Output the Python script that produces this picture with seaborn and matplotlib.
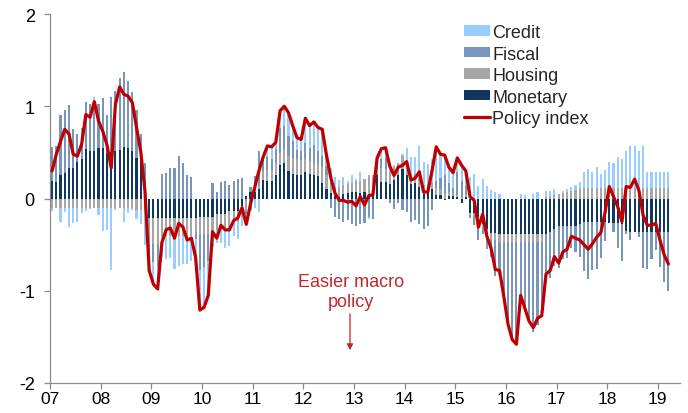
import numpy as np
import pandas as pd
import matplotlib
matplotlib.use("Agg")
import matplotlib.pyplot as plt
from matplotlib.patches import Patch
from matplotlib.lines import Line2D
import seaborn as sns

# ---------------- data (monthly, Jan 2007 - Mar 2019) ----------------
year_labels = ["07", "08", "09", "10", "11", "12", "13", "14", "15", "16", "17", "18", "19"]

monetary = [
    0.19, 0.18, 0.26, 0.28, 0.33, 0.33, 0.40, 0.43, 0.54, 0.52, 0.51, 0.55,
    0.55, 0.49, 0.50, 0.52, 0.53, 0.56, 0.55, 0.52, 0.44, 0.44, 0.02, -0.21,
    -0.21, -0.21, -0.21, -0.21, -0.21, -0.21, -0.21, -0.21, -0.21, -0.21, -0.21, -0.20,
    -0.20, -0.20, -0.20, -0.17, -0.17, -0.17, -0.14, -0.14, -0.14, -0.08, 0.03, 0.07,
    0.07, 0.10, 0.20, 0.19, 0.19, 0.25, 0.36, 0.39, 0.30, 0.27, 0.25, 0.26,
    0.29, 0.27, 0.25, 0.24, 0.17, 0.10, 0.06, 0.03, 0.02, 0.05, 0.06, 0.07,
    0.07, 0.06, 0.07, 0.05, 0.05, 0.25, 0.18, 0.18, 0.16, 0.20, 0.25, 0.32,
    0.25, 0.16, 0.17, 0.12, 0.05, 0.07, 0.10, 0.04, 0.04, -0.02, 0.03, 0.03,
    0.02, -0.05, 0.02, -0.16, -0.16, -0.20, -0.28, -0.33, -0.37, -0.37, -0.39, -0.39,
    -0.39, -0.39, -0.39, -0.39, -0.39, -0.39, -0.39, -0.39, -0.39, -0.38, -0.36, -0.33,
    -0.30, -0.30, -0.30, -0.30, -0.30, -0.28, -0.26, -0.26, -0.26, -0.26, -0.26, -0.26,
    -0.27, -0.27, -0.27, -0.28, -0.35, -0.36, -0.36, -0.36, -0.36, -0.36, -0.36, -0.36,
    -0.36, -0.36, -0.36,
]

housing = [
    -0.10, -0.10, -0.10, -0.10, -0.10, -0.10, -0.10, -0.10, -0.10, -0.10, -0.10, -0.10,
    -0.10, -0.10, -0.10, -0.10, -0.10, -0.10, -0.10, -0.10, -0.12, -0.12, -0.12, -0.28,
    -0.28, -0.28, -0.20, -0.20, -0.20, -0.20, -0.20, -0.20, -0.20, -0.20, -0.18, -0.18,
    -0.18, -0.18, -0.17, -0.17, -0.17, -0.17, -0.17, -0.12, -0.12, -0.12, -0.12, -0.12,
    0.02, 0.05, 0.10, 0.12, 0.12, 0.14, 0.13, 0.15, 0.16, 0.17, 0.18, 0.16,
    0.14, 0.14, 0.13, 0.13, 0.17, 0.15, 0.12, 0.10, 0.10, 0.10, 0.10, 0.10,
    0.12, 0.13, 0.14, 0.20, 0.20, 0.16, 0.15, 0.14, 0.14, 0.14, 0.13, 0.14,
    0.12, 0.12, 0.10, 0.10, 0.10, 0.09, 0.08, 0.07, 0.06, 0.05, 0.04, 0.03,
    0.02, 0.02, 0.02, -0.02, -0.03, -0.03, -0.04, -0.05, -0.07, -0.08, -0.08, -0.08,
    -0.08, -0.08, -0.08, -0.08, -0.08, -0.08, -0.08, -0.08, -0.08, 0.02, 0.03, 0.04,
    0.05, 0.06, 0.07, 0.08, 0.09, 0.10, 0.11, 0.11, 0.11, 0.11, 0.11, 0.11,
    0.11, 0.11, 0.11, 0.11, 0.11, 0.11, 0.11, 0.11, 0.11, 0.11, 0.11, 0.11,
    0.11, 0.11, 0.11,
]

fiscal = [
    0.37, 0.39, 0.64, 0.68, 0.68, 0.42, 0.30, 0.33, 0.51, 0.50, 0.55, 0.47,
    0.54, 0.42, 0.60, 0.65, 0.78, 0.81, 0.72, 0.63, 0.52, 0.26, 0.37, -0.15,
    -0.20, -0.25, 0.27, 0.28, 0.33, 0.33, 0.46, 0.39, 0.25, 0.23, -0.05, -0.40,
    -0.36, -0.30, 0.17, 0.07, 0.18, 0.19, 0.15, 0.19, 0.21, 0.22, -0.05, 0.06,
    0.15, 0.37, 0.13, 0.14, 0.12, 0.15, 0.27, 0.25, 0.22, 0.18, 0.10, 0.10,
    0.17, 0.14, 0.20, 0.15, 0.12, 0.10, -0.10, -0.20, -0.22, -0.25, -0.23, -0.28,
    -0.30, -0.28, -0.27, -0.20, -0.22, 0.00, 0.10, 0.12, -0.05, -0.11, -0.05, -0.12,
    -0.15, -0.25, -0.23, -0.28, -0.33, -0.30, -0.12, 0.08, 0.12, 0.20, 0.10, 0.05,
    0.25, 0.17, 0.10, -0.03, -0.10, -0.22, -0.06, -0.17, -0.19, -0.39, -0.36, -0.59,
    -0.89, -1.06, -1.11, -0.63, -0.76, -0.86, -0.98, -0.90, -0.80, -0.52, -0.50, -0.40,
    -0.45, -0.36, -0.35, -0.24, -0.28, -0.35, -0.53, -0.61, -0.52, -0.50, -0.38, -0.20,
    0.00, -0.09, -0.27, -0.40, -0.03, -0.09, 0.00, -0.06, -0.39, -0.40, -0.30, -0.20,
    -0.38, -0.54, -0.64,
]

credit = [
    -0.04, 0.00, -0.15, -0.05, -0.21, -0.17, -0.15, -0.06, -0.04, -0.01, 0.04, -0.08,
    -0.25, -0.24, -0.67, -0.03, 0.00, -0.15, -0.06, -0.03, -0.10, -0.16, -0.38, -0.14,
    -0.24, -0.23, -0.22, -0.25, -0.23, -0.35, -0.32, -0.30, -0.30, -0.27, -0.28, -0.42,
    -0.44, -0.30, -0.16, -0.14, -0.14, -0.20, -0.20, -0.15, -0.18, -0.10, -0.10, -0.02,
    -0.10, -0.15, 0.03, 0.10, 0.12, 0.08, 0.20, 0.20, 0.25, 0.17, 0.14, 0.13,
    0.27, 0.24, 0.25, 0.25, 0.29, 0.10, 0.15, 0.10, 0.08, 0.08, 0.03, 0.08,
    0.02, 0.10, 0.00, -0.02, 0.00, 0.02, 0.10, 0.11, 0.07, 0.02, 0.01, 0.02,
    0.18, 0.17, 0.18, 0.35, 0.25, 0.21, 0.25, 0.36, 0.26, 0.23, 0.17, 0.16,
    0.15, 0.17, 0.16, 0.23, 0.27, 0.14, 0.21, 0.14, 0.09, 0.07, 0.05, 0.00,
    0.00, 0.00, 0.00, 0.05, 0.04, 0.00, 0.05, 0.07, 0.00, 0.06, 0.05, 0.06,
    0.00, 0.02, 0.03, 0.05, 0.06, 0.08, 0.18, 0.21, 0.18, 0.23, 0.16, 0.20,
    0.29, 0.27, 0.34, 0.32, 0.40, 0.46, 0.46, 0.40, 0.46, 0.18, 0.18, 0.18,
    0.18, 0.18, 0.18,
]

policy_index = [
    0.30, 0.48, 0.62, 0.75, 0.70, 0.48, 0.46, 0.59, 0.91, 0.88, 1.05, 0.84,
    0.73, 0.58, 0.33, 1.02, 1.21, 1.13, 1.11, 1.04, 0.77, 0.51, 0.08, -0.78,
    -0.93, -0.98, -0.48, -0.34, -0.32, -0.43, -0.27, -0.31, -0.45, -0.43, -0.64, -1.21,
    -1.18, -1.05, -0.36, -0.43, -0.29, -0.34, -0.34, -0.24, -0.21, -0.10, -0.28, -0.06,
    0.12, 0.30, 0.45, 0.57, 0.56, 0.61, 0.95, 1.00, 0.93, 0.79, 0.66, 0.64,
    0.87, 0.79, 0.83, 0.77, 0.75, 0.47, 0.23, 0.06, -0.02, -0.02, -0.04, -0.03,
    -0.08, 0.02, -0.07, 0.03, 0.04, 0.44, 0.54, 0.55, 0.35, 0.25, 0.34, 0.36,
    0.40, 0.20, 0.22, 0.29, 0.07, 0.07, 0.30, 0.56, 0.48, 0.47, 0.34, 0.28,
    0.44, 0.36, 0.30, 0.02, -0.02, -0.31, -0.17, -0.41, -0.54, -0.77, -0.78, -1.06,
    -1.36, -1.53, -1.58, -1.05, -1.19, -1.33, -1.40, -1.30, -1.27, -0.82, -0.78, -0.63,
    -0.70, -0.58, -0.55, -0.41, -0.43, -0.45, -0.50, -0.55, -0.49, -0.42, -0.37, -0.15,
    0.13, 0.02, -0.09, -0.25, 0.13, 0.12, 0.21, 0.09, -0.18, -0.29, -0.29, -0.27,
    -0.45, -0.61, -0.71,
]

# ---------------- style ----------------
sns.set_theme(style="white")
plt.rcParams["font.family"] = ["Liberation Sans", "DejaVu Sans"]

FS = 13
C_CREDIT = "#99CCFF"
C_FISCAL = "#7895BC"
C_HOUSING = "#A6A6A6"
C_MONETARY = "#0F375F"
C_LINE = "#C00000"
C_ANNOT = "#C0282D"
C_AXIS = "#8C8C8C"

fig = plt.figure(figsize=(6.88, 4.14), dpi=100)
ax = fig.add_axes([50 / 688, 30 / 414, 630 / 688, 369 / 414])

n = len(policy_index)
x = np.arange(n)

components = [
    ("Monetary", monetary, C_MONETARY),
    ("Housing", housing, C_HOUSING),
    ("Fiscal", fiscal, C_FISCAL),
    ("Credit", credit, C_CREDIT),
]
pos_base = np.zeros(n)
neg_base = np.zeros(n)
for name, vals, col in components:
    v = np.asarray(vals, dtype=float)
    p = np.where(v > 0, v, 0.0)
    q = np.where(v < 0, v, 0.0)
    ax.bar(x, p, bottom=pos_base, width=0.5, color=col, linewidth=0, zorder=2)
    ax.bar(x, q, bottom=neg_base, width=0.5, color=col, linewidth=0, zorder=2)
    pos_base += p
    neg_base += q

df = pd.DataFrame({"month": x, "Policy index": policy_index})
sns.lineplot(data=df, x="month", y="Policy index", color=C_LINE, linewidth=2.3,
             ax=ax, zorder=5)

# ---------------- axes ----------------
ax.set_xlim(-0.5, 148.75)
ax.set_ylim(-2, 2)
ax.set_yticks([-2, -1, 0, 1, 2])
ax.set_yticklabels(["-2", "-1", "0", "1", "2"])
ax.set_xticks([12 * k - 0.5 for k in range(len(year_labels))])
ax.set_xticklabels(year_labels)
ax.set_xlabel("")
ax.set_ylabel("")

for s in ["top", "right"]:
    ax.spines[s].set_visible(False)
for s in ["left", "bottom"]:
    ax.spines[s].set_color(C_AXIS)
    ax.spines[s].set_linewidth(0.9)

ax.tick_params(axis="both", which="major", direction="out", length=4,
               width=0.9, color=C_AXIS, labelcolor="black",
               bottom=True, left=True)
ax.tick_params(axis="y", pad=7, labelsize=FS)
ax.tick_params(axis="x", pad=1.5, labelsize=12.5)
ax.grid(False)

# ---------------- annotation ----------------
ax.text(70.8, -0.946, "Easier macro", ha="center", va="baseline",
        color=C_ANNOT, fontsize=FS)
ax.text(70.8, -1.17, "policy", ha="center", va="baseline",
        color=C_ANNOT, fontsize=FS)
ax.annotate("", xy=(70.57, -1.645), xytext=(70.57, -1.25),
            arrowprops=dict(arrowstyle="-|>", color=C_ANNOT, lw=0.9,
                            mutation_scale=9, shrinkA=0, shrinkB=0))

# ---------------- legend ----------------
handles = [
    Patch(facecolor=C_CREDIT, edgecolor="none", label="Credit"),
    Patch(facecolor=C_FISCAL, edgecolor="none", label="Fiscal"),
    Patch(facecolor=C_HOUSING, edgecolor="none", label="Housing"),
    Patch(facecolor=C_MONETARY, edgecolor="none", label="Monetary"),
    Line2D([0], [0], color=C_LINE, lw=2.3, label="Policy index"),
]
fig.legend(handles=handles, loc="upper left",
           bbox_to_anchor=(464 / 688, 1 - 25 / 414), frameon=False,
           fontsize=FS, handlelength=1.45, handleheight=0.5,
           handletextpad=0.12, labelspacing=0.25, borderpad=0,
           borderaxespad=0)

fig.savefig("out.png", dpi=100)
